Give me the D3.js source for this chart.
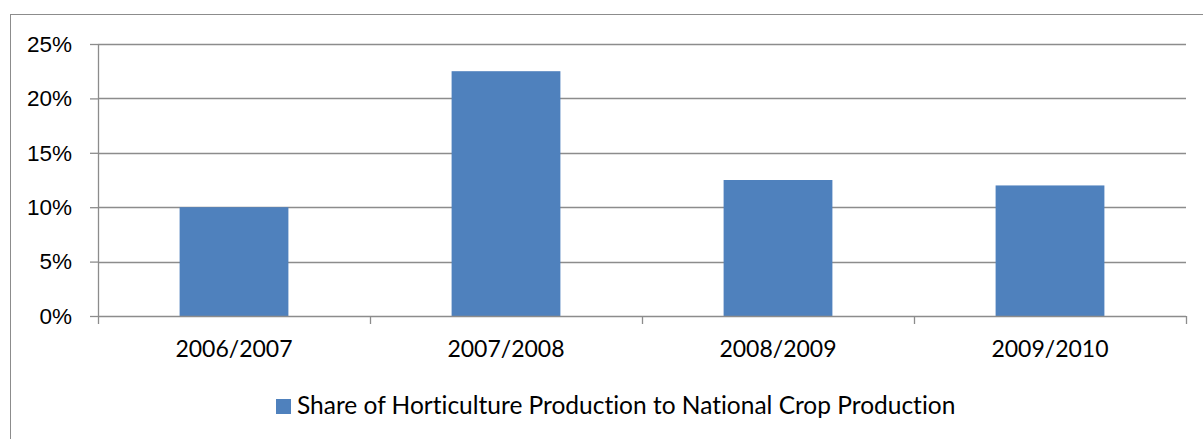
<!DOCTYPE html>
<html>
<head>
<meta charset="utf-8">
<script src="https://cdn.jsdelivr.net/npm/d3@7"></script>
<style>
  body { margin: 0; background: #fff; }
  svg { display: block; font-family: Lato, "Open Sans", sans-serif; font-variant-ligatures: none; }
</style>
</head>
<body>
<div id="chart"></div>
<script>
var seasons = ["2006/2007", "2007/2008", "2008/2009", "2009/2010"];
var shares = [10.0, 22.5, 12.5, 12.0];
var yTicks = [0, 5, 10, 15, 20, 25];
var seriesName = "Share of Horticulture Production to National Crop Production";

var W = 1203, H = 439;
var margin = { top: 44, right: 17, bottom: 123, left: 98 };
var width = W - margin.left - margin.right;
var height = H - margin.top - margin.bottom;

var svg = d3.select("#chart").append("svg")
  .attr("width", W)
  .attr("height", H);

// outer chart border
svg.append("rect")
  .attr("x", 10.5).attr("y", 14.5)
  .attr("width", W + 20).attr("height", H + 20)
  .attr("fill", "none")
  .attr("stroke", "#8c8c8c");

var g = svg.append("g")
  .attr("transform", "translate(" + margin.left + "," + margin.top + ")");

var x = d3.scaleBand()
  .domain(seasons)
  .range([0, width])
  .paddingInner(0.6)
  .paddingOuter(0.3);

var y = d3.scaleLinear()
  .domain([0, 25])
  .range([height, 0]);

// gridlines
g.selectAll(".grid")
  .data(yTicks.filter(function(d) { return d > 0; }))
  .enter().append("line")
  .attr("x1", 0).attr("x2", width)
  .attr("y1", function(d) { return Math.round(y(d)) + 0.5; })
  .attr("y2", function(d) { return Math.round(y(d)) + 0.5; })
  .attr("stroke", "#8c8c8c")
  .attr("stroke-width", 1.3);

// bars
g.selectAll(".bar")
  .data(shares)
  .enter().append("rect")
  .attr("x", function(d, i) { return x(seasons[i]); })
  .attr("y", function(d) { return y(d); })
  .attr("width", x.bandwidth())
  .attr("height", function(d) { return height - y(d); })
  .attr("fill", "#4f81bd");

// y axis
var yAxis = g.append("g")
  .call(d3.axisLeft(y).tickValues(yTicks).tickSize(8).tickPadding(18)
    .tickFormat(function(d) { return d + "%"; }));
yAxis.selectAll("line").attr("stroke", "#8c8c8c").attr("stroke-width", 1.3);
yAxis.select(".domain").attr("stroke", "#8c8c8c").attr("stroke-width", 1.3)
  .attr("d", "M0.5,0V" + height);
yAxis.selectAll("text")
  .attr("fill", "#000")
  .style("font-size", "22.5px");

// x axis with ticks at category boundaries
var bounds = d3.range(seasons.length + 1).map(function(i) { return i * width / seasons.length; });
var xAxis = g.append("g").attr("transform", "translate(0," + height + ")");
xAxis.append("line")
  .attr("x1", 0).attr("x2", width)
  .attr("y1", 0.5).attr("y2", 0.5)
  .attr("stroke", "#8c8c8c").attr("stroke-width", 1.3);
xAxis.selectAll(".tk")
  .data(bounds)
  .enter().append("line")
  .attr("x1", function(d) { return Math.round(d) + 0.5; })
  .attr("x2", function(d) { return Math.round(d) + 0.5; })
  .attr("y1", 0).attr("y2", 8)
  .attr("stroke", "#8c8c8c").attr("stroke-width", 1.3);
xAxis.selectAll(".lbl")
  .data(seasons)
  .enter().append("text")
  .attr("x", function(d) { return x(d) + x.bandwidth() / 2; })
  .attr("y", 41)
  .attr("text-anchor", "middle")
  .style("font-size", "23px")
  .text(function(d) { return d; });

// legend
var legend = svg.append("g").attr("transform", "translate(276,399)");
legend.append("rect")
  .attr("width", 15).attr("height", 15)
  .attr("fill", "#4f81bd");
legend.append("text")
  .attr("x", 21).attr("y", 15)
  .style("font-size", "24.5px")
  .text(seriesName);
</script>
</body>
</html>
